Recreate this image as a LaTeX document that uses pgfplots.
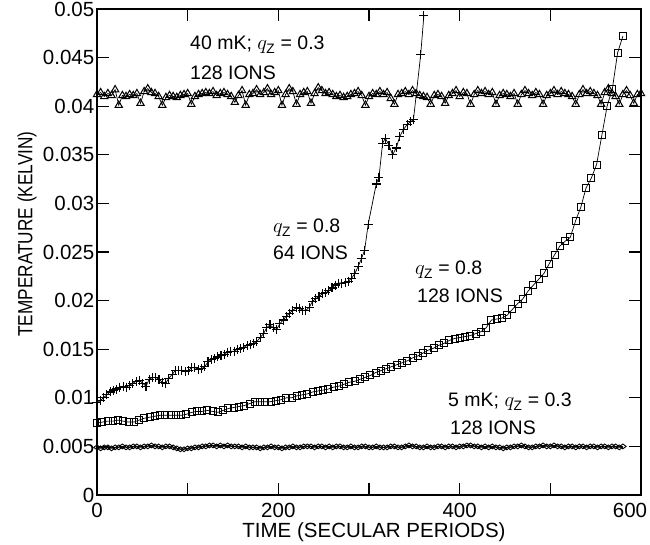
\documentclass[border=0pt]{standalone}
\usepackage{pgfplots}
\pgfplotsset{compat=1.18}
\usepackage{amsmath}
\usepackage{fontspec}
\setmainfont{Liberation Sans}
\setsansfont{Liberation Sans}
\newcommand{\qz}{$q_{\text{Z}}$}
\begin{document}
\begin{tikzpicture}[x=1bp,y=1bp]
\useasboundingbox (-97,-50) rectangle (553,495);
\begin{axis}[
  at={(0,0)}, anchor=south west,
  scale only axis, width=544bp, height=486bp,
  xmin=0, xmax=600, ymin=0, ymax=0.05,
  axis line style={line width=1.3bp},
  tick style={line width=1.1bp, black},
  major tick length=12bp,
  tick align=inside,
  xtick={0,100,200,300,400,500},
  xticklabels={0,,200,,400,},
  extra x ticks={600},
  extra x tick labels={600},
  extra x tick style={xticklabel style={xshift=-11bp}},
  ytick={0,0.005,0.01,0.015,0.02,0.025,0.03,0.035,0.04,0.045,0.05},
  yticklabels={0,0.005,0.01,0.015,0.02,0.025,0.03,0.035,0.04,0.045,0.05},
  scaled y ticks=false,
  tick label style={font=\fontsize{20.5bp}{24bp}\selectfont, inner sep=1.5bp},
  xticklabel style={yshift=-6bp},
  yticklabel style={xshift=-1bp},
]
% 40 mK, qz=0.3, 128 ions
\addplot[black, line width=0.7bp, mark=triangle, mark size=4.2bp, mark options={line width=1bp}] coordinates {
(0,0.0412)(4,0.0414)(8,0.0410)(12,0.0413)(16,0.0411)(20,0.0417)(24,0.0401)(28,0.0411)(32,0.0410)(36,0.0412)
(40,0.0411)(44,0.0413)(48,0.0403)(52,0.0415)(56,0.0418)(60,0.0414)(64,0.0413)(68,0.0410)(72,0.0401)(76,0.0409)
(80,0.0411)(84,0.0410)(88,0.0409)(92,0.0411)(96,0.0412)(100,0.0413)(104,0.0402)(108,0.0410)(112,0.0412)(116,0.0413)
(120,0.0414)(124,0.0413)(128,0.0415)(132,0.0411)(136,0.0413)(140,0.0414)(144,0.0412)(148,0.0410)(152,0.0404)(156,0.0411)
(160,0.0416)(164,0.0401)(168,0.0412)(172,0.0413)(176,0.0417)(180,0.0412)(184,0.0414)(188,0.0418)(192,0.0412)(196,0.0414)
(200,0.0416)(204,0.0401)(208,0.0412)(212,0.0418)(216,0.0415)(220,0.0402)(224,0.0412)(228,0.0414)(232,0.0415)(236,0.0403)
(240,0.0413)(244,0.0419)(248,0.0416)(252,0.0413)(256,0.0414)(260,0.0412)(264,0.0410)(268,0.0411)(272,0.0409)(276,0.0410)
(280,0.0412)(284,0.0413)(288,0.0415)(292,0.0411)(296,0.0401)(300,0.0410)(304,0.0413)(308,0.0412)(312,0.0415)(316,0.0412)
(320,0.0414)(324,0.0408)(328,0.0402)(332,0.0412)(336,0.0413)(340,0.0415)(344,0.0412)(348,0.0416)(352,0.0413)(356,0.0411)
(360,0.0410)(364,0.0409)(368,0.0402)(372,0.0411)(376,0.0412)(380,0.0410)(384,0.0403)(388,0.0411)(392,0.0413)(396,0.0416)
(400,0.0410)(404,0.0414)(408,0.0413)(412,0.0402)(416,0.0412)(420,0.0416)(424,0.0413)(428,0.0415)(432,0.0412)(436,0.0414)
(440,0.0402)(444,0.0411)(448,0.0413)(452,0.0412)(456,0.0410)(460,0.0413)(464,0.0402)(468,0.0412)(472,0.0416)(476,0.0413)
(480,0.0411)(484,0.0414)(488,0.0412)(492,0.0402)(496,0.0411)(500,0.0413)(504,0.0416)(508,0.0412)(512,0.0415)(516,0.0413)
(520,0.0412)(524,0.0410)(528,0.0402)(532,0.0412)(536,0.0417)(540,0.0413)(544,0.0415)(548,0.0413)(552,0.0411)(556,0.0402)
(560,0.0414)(564,0.0418)(568,0.0413)(572,0.0410)(576,0.0402)(580,0.0412)(584,0.0416)(588,0.0411)(592,0.0403)(596,0.0412)
(600,0.0413)
};
% qz=0.8, 64 ions
\addplot[black, line width=0.7bp, mark=+, mark size=4.5bp, mark options={line width=1.1bp}] coordinates {
(0,0.0095)(3.6,0.0097)(7.2,0.0100)(10.8,0.0103)(14.4,0.0106)(18,0.0108)(21.6,0.0109)(25.2,0.0111)(28.8,0.0112)(32.4,0.0111)
(36,0.0113)(39.6,0.0115)(43.2,0.0117)(46.8,0.0118)(50.4,0.0115)(54,0.0112)(57.6,0.0119)(61.2,0.0121)(64.8,0.0121)(68.4,0.0119)
(72,0.0116)(75.6,0.0115)(79.2,0.0120)(82.8,0.0124)(86.4,0.0128)(90,0.0128)(93.6,0.0128)(97.2,0.0127)(100.8,0.0128)(104.4,0.0131)
(108,0.0131)(111.6,0.0129)(115.2,0.0130)(118.8,0.0132)(122.4,0.0137)(126,0.0139)(129.6,0.0140)(133.2,0.0142)(136.8,0.0144)(140.4,0.0145)
(144,0.0147)(147.6,0.0148)(151.2,0.0148)(154.8,0.0150)(158.4,0.0151)(162,0.0152)(165.6,0.0154)(169.2,0.0155)(172.8,0.0156)(176.4,0.0158)
(180,0.0162)(183.6,0.0166)(187.2,0.0172)(190.8,0.0175)(194.4,0.0172)(198,0.0170)(201.6,0.0176)(205.2,0.0180)(208.8,0.0184)(212.4,0.0187)
(216,0.0190)(219.6,0.0193)(223.2,0.0192)(226.8,0.0190)(230.4,0.0190)(234,0.0193)(237.6,0.0199)(241.2,0.0202)(244.8,0.0204)(248.4,0.0207)
(252,0.0208)(255.6,0.0210)(259.2,0.0213)(262.8,0.0216)(266.4,0.0218)(270,0.0218)(273.6,0.0219)(277.2,0.0220)(280.8,0.0223)(284.4,0.0228)
(288,0.0235)(291.6,0.0243)(295.2,0.0252)(299,0.0278)(308,0.0320)(311,0.0327)(315,0.0362)(318,0.0367)(322,0.0360)(326,0.0350)
(330,0.0357)(334,0.0369)(338,0.0376)(342,0.0381)(345.6,0.0384)(349,0.0386)(357,0.0453)(360.5,0.0493)
};
% qz=0.8, 128 ions
\addplot[black, line width=0.7bp, mark=square, mark size=3.5bp, mark options={line width=1bp}] coordinates {
(0,0.0074)(5.8,0.0075)(11.6,0.0076)(17.4,0.0076)(23.2,0.0077)(29,0.0076)(34.8,0.0075)(40.6,0.0075)(46.4,0.0077)(52.2,0.0079)
(58,0.0080)(63.8,0.0081)(69.6,0.0082)(75.4,0.0082)(81.2,0.0082)(87,0.0082)(92.8,0.0082)(98.6,0.0083)(104.4,0.0085)(110.2,0.0086)
(116,0.0086)(121.8,0.0087)(127.6,0.0086)(133.4,0.0085)(139.2,0.0087)(145,0.0089)(150.8,0.0090)(156.6,0.0091)(162.4,0.0092)(168.2,0.0094)
(174,0.0096)(179.8,0.0096)(185.6,0.0096)(191.4,0.0096)(197.2,0.0097)(203,0.0098)(208.8,0.0100)(214.6,0.0100)(220.4,0.0102)(226.2,0.0103)
(232,0.0104)(237.8,0.0106)(243.6,0.0107)(249.4,0.0108)(255.2,0.0109)(261,0.0111)(266.8,0.0112)(272.6,0.0114)(278.4,0.0116)(284.2,0.0117)
(290,0.0119)(295.8,0.0121)(301.6,0.0123)(307.4,0.0126)(313.2,0.0128)(319,0.0130)(324.8,0.0132)(330.6,0.0134)(336.4,0.0136)(342.2,0.0138)
(348,0.0141)(353.8,0.0143)(359.6,0.0146)(365.4,0.0149)(371.2,0.0151)(377,0.0154)(382.8,0.0156)(388.6,0.0159)(394.4,0.0161)(400.2,0.0162)
(406,0.0163)(411.8,0.0164)(417.6,0.0166)(423.4,0.0168)(429.2,0.0172)(435,0.0180)(440.8,0.0181)(446.6,0.0182)(452.4,0.0185)(458.2,0.0191)
(464,0.0197)(469.8,0.0202)(475.6,0.0210)(481.4,0.0216)(487.2,0.0222)(493,0.0228)(498.8,0.0238)(504.6,0.0247)(510.4,0.0256)(516.2,0.0261)
(522,0.0265)(527.8,0.0282)(533.6,0.0296)(539.4,0.0316)(545.2,0.0326)(551,0.0340)(556.8,0.0370)(562.6,0.0400)(568.4,0.0418)(574.2,0.0455)
(580,0.0472)
};
% 5 mK, qz=0.3, 128 ions
\addplot[black, line width=0.7bp, mark=diamond, mark size=3.2bp, mark options={line width=0.9bp, rotate=90}] coordinates {
(0,0.0049)(4,0.0048)(8,0.0049)(12,0.0049)(16,0.0048)(20,0.0049)(24,0.0049)(28,0.0050)(32,0.0049)(36,0.0049)
(40,0.0050)(44,0.0050)(48,0.0049)(52,0.0050)(56,0.0050)(60,0.0051)(64,0.0050)(68,0.0050)(72,0.0049)(76,0.0050)
(80,0.0050)(84,0.0049)(88,0.0048)(92,0.0047)(96,0.0047)(100,0.0048)(104,0.0048)(108,0.0049)(112,0.0049)(116,0.0050)
(120,0.0050)(124,0.0051)(128,0.0051)(132,0.0050)(136,0.0051)(140,0.0050)(144,0.0051)(148,0.0050)(152,0.0050)(156,0.0050)
(160,0.0049)(164,0.0050)(168,0.0049)(172,0.0049)(176,0.0049)(180,0.0048)(184,0.0049)(188,0.0049)(192,0.0050)(196,0.0049)
(200,0.0049)(204,0.0048)(208,0.0049)(212,0.0049)(216,0.0050)(220,0.0049)(224,0.0049)(228,0.0050)(232,0.0050)(236,0.0050)
(240,0.0049)(244,0.0050)(248,0.0050)(252,0.0049)(256,0.0050)(260,0.0049)(264,0.0050)(268,0.0050)(272,0.0049)(276,0.0049)
(280,0.0050)(284,0.0049)(288,0.0049)(292,0.0050)(296,0.0050)(300,0.0049)(304,0.0049)(308,0.0050)(312,0.0049)(316,0.0049)
(320,0.0049)(324,0.0050)(328,0.0050)(332,0.0049)(336,0.0049)(340,0.0050)(344,0.0051)(348,0.0050)(352,0.0050)(356,0.0049)
(360,0.0049)(364,0.0050)(368,0.0049)(372,0.0049)(376,0.0050)(380,0.0050)(384,0.0049)(388,0.0050)(392,0.0050)(396,0.0049)
(400,0.0050)(404,0.0050)(408,0.0051)(412,0.0051)(416,0.0050)(420,0.0050)(424,0.0049)(428,0.0050)(432,0.0049)(436,0.0050)
(440,0.0049)(444,0.0049)(448,0.0048)(452,0.0049)(456,0.0049)(460,0.0050)(464,0.0050)(468,0.0051)(472,0.0050)(476,0.0049)
(480,0.0049)(484,0.0050)(488,0.0050)(492,0.0051)(496,0.0050)(500,0.0050)(504,0.0051)(508,0.0050)(512,0.0050)(516,0.0049)
(520,0.0050)(524,0.0050)(528,0.0049)(532,0.0050)(536,0.0050)(540,0.0049)(544,0.0050)(548,0.0050)(552,0.0049)(556,0.0050)
(560,0.0050)(564,0.0049)(568,0.0050)(572,0.0050)(576,0.0049)(580,0.0050)
};
\end{axis}
\begin{scope}[every node/.style={font=\fontsize{19.5bp}{22bp}\selectfont, inner sep=0pt, anchor=base west}]
\node at (93,445) {40 mK; \qz{} = 0.3};
\node at (93,415) {128 IONS};
\node at (176,262) {\qz{} = 0.8};
\node at (176,235) {64 IONS};
\node at (318,220) {\qz{} = 0.8};
\node at (320,192) {128 IONS};
\node at (351,88) {5 mK; \qz{} = 0.3};
\node at (353,60) {128 IONS};
\end{scope}
\node[font=\fontsize{20.5bp}{24bp}\selectfont, inner sep=0pt, anchor=base] at (277,-43) {TIME (SECULAR PERIODS)};
\node[font=\fontsize{20.5bp}{24bp}\selectfont, inner sep=0pt, rotate=90] at (-70,261) {\scalebox{0.84}[1]{TEMPERATURE (KELVIN)}};
\end{tikzpicture}
\end{document}
